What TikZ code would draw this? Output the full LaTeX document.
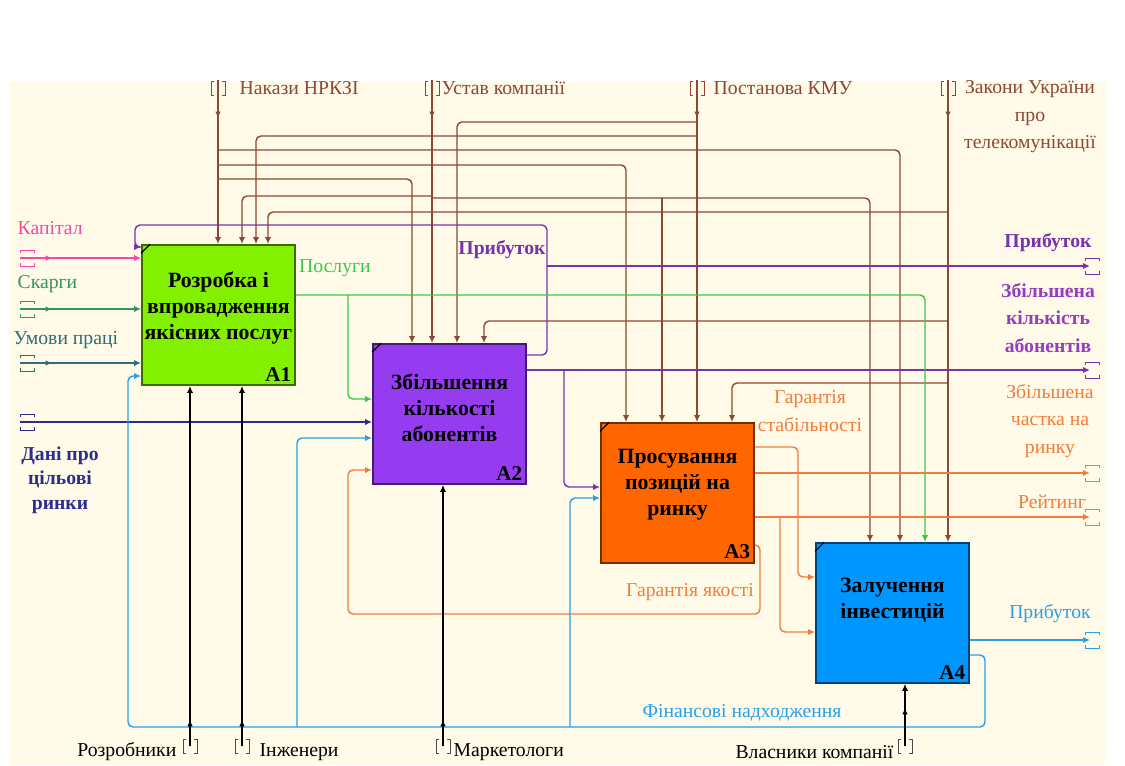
\documentclass[tikz,border=0pt]{standalone}
\usepackage{fontspec}
\setmainfont{Liberation Serif}
\usetikzlibrary{arrows.meta,decorations.markings,calc}

\definecolor{cream}{RGB}{255,251,232}
\definecolor{ctrlc}{RGB}{140,72,52}
\definecolor{kapc}{RGB}{250,70,170}
\definecolor{skc}{RGB}{50,150,90}
\definecolor{umc}{RGB}{45,110,120}
\definecolor{danc}{RGB}{45,45,140}
\definecolor{posc}{RGB}{60,200,70}
\definecolor{purc}{RGB}{120,50,170}
\definecolor{purt}{RGB}{150,60,190}
\definecolor{orc}{RGB}{240,125,60}
\definecolor{bluc}{RGB}{40,160,230}
\definecolor{aonec}{RGB}{130,240,0}
\definecolor{atwoc}{RGB}{150,60,240}
\definecolor{athreec}{RGB}{255,102,0}
\definecolor{afourc}{RGB}{0,150,255}

\tikzset{
  func/.style={draw, line width=1.2pt, minimum width=3.825cm, minimum height=3.5cm, inner sep=0pt},
  ftext/.style={align=center, font=\fontsize{15.5}{18.5}\selectfont\bfseries, inner sep=0pt},
  fnum/.style={font=\fontsize{15}{18}\selectfont\bfseries, inner sep=1pt},
  lbl/.style={font=\fontsize{14}{19.5}\selectfont, align=center, inner sep=1pt},
  endtip/.style={-{Latex[length=5pt,width=4.5pt]}},
  link/.style={line width=1pt, rounded corners=3.5pt},
  ctrl/.style={link, color=ctrlc},
  midmark/.style={postaction={decorate}, decoration={markings, mark=at position #1 with {\arrow{Latex[length=4.5pt,width=4pt]}}}},
  tunh/.pic={\draw[line width=0.6pt] (-7,-5) -- (-7,-8) -- (7,-8) -- (7,-5) (-7,5) -- (-7,8) -- (7,8) -- (7,5);},
  tunv/.pic={\draw[line width=0.6pt] (-4,-7) -- (-7,-7) -- (-7,7) -- (-4,7) (4,-7) -- (7,-7) -- (7,7) -- (4,7);}
}

\begin{document}
\begin{tikzpicture}[x=0.025cm,y=-0.025cm]
\useasboundingbox (0,0) rectangle (1125,765);
\fill[cream] (10,82) rectangle (1105,765);

\node[func, fill=aonec, draw=aonec!45!black] (A1) at (218.5,315) {};
\node[func, fill=atwoc, draw=atwoc!45!black] (A2) at (449.5,414) {};
\node[func, fill=athreec, draw=athreec!45!black] (A3) at (677.5,493) {};
\node[func, fill=afourc, draw=afourc!45!black] (A4) at (892.5,613) {};
\foreach \b in {A1,A2,A3,A4}
  \draw[line width=0.8pt] ($(\b.north west)+(0,9)$) -- ($(\b.north west)+(9,0)$);

\node[ftext] (t1) at (218.5,308) {Розробка і\\впровадження\\якісних послуг};
\node[ftext] (t2) at (449.5,408) {Збільшення\\кількості\\абонентів};
\node[ftext] (t3) at (677.5,485) {Просування\\позицій на\\ринку};
\node[ftext] (t4) at (892.5,600) {Залучення\\інвестицій};
\node[fnum, anchor=south east] (n1) at ($(A1.south east)+(-3,-3)$) {A1};
\node[fnum, anchor=south east] (n2) at ($(A2.south east)+(-3,-3)$) {A2};
\node[fnum, anchor=south east] (n3) at ($(A3.south east)+(-3,-3)$) {A3};
\node[fnum, anchor=south east] (n4) at ($(A4.south east)+(-3,-3)$) {A4};

\coordinate (nakT) at (218,80);
\coordinate (ustT) at (432,80);
\coordinate (posT) at (697,80);
\coordinate (zakT) at (948,80);
\node[lbl, text=ctrlc, anchor=west] (nakL) at (238,88) {Накази НРКЗІ};
\node[lbl, text=ctrlc, anchor=west] (ustL) at (440,88) {Устав компанії};
\node[lbl, text=ctrlc, anchor=west] (posL) at (712,88) {Постанова КМУ};
\node[lbl, text=ctrlc] (zakL) at (1030,117) {Закони України\\про\\телекомунікації};
\foreach \t in {nakT,ustT,posT,zakT}
  \pic[color=ctrlc] at ($(\t)+(0,8)$) {tunv};

\draw[ctrl, midmark=0.95cm, endtip] (nakT) -- (nakT |- A1.north);
\draw[ctrl, midmark=0.95cm, endtip] (ustT) -- (ustT |- A2.north);
\draw[ctrl, midmark=0.95cm, endtip] (posT) -- (posT |- A3.north);
\draw[ctrl, midmark=0.95cm, endtip] (zakT) -- (zakT |- A4.north);
\draw[ctrl, endtip] (nakT |- 0,150) -| (A4.north -| 900,0);
\draw[ctrl, endtip] (nakT |- 0,165) -| (A3.north -| 626,0);
\draw[ctrl, endtip] (nakT |- 0,179) -| (A2.north -| 412,0);
\draw[ctrl, endtip] (ustT |- 0,196) -| (A1.north -| 242,0);
\draw[ctrl, endtip] (ustT |- 0,198) -| (A4.north -| 870,0);
\draw[ctrl, endtip] (662,198) -- (A3.north -| 662,0);
\draw[ctrl, endtip] (posT |- 0,122) -| (A2.north -| 457,0);
\draw[ctrl, endtip] (posT |- 0,136) -| (A1.north -| 256,0);
\draw[ctrl, endtip] (zakT |- 0,212) -| (A1.north -| 268,0);
\draw[ctrl, endtip] (zakT |- 0,321) -| (A2.north -| 484,0);
\draw[ctrl, endtip] (zakT |- 0,383) -| (A3.north -| 732,0);

\coordinate (kapS) at (20,258);
\coordinate (skS) at (20,309);
\coordinate (umS) at (20,363);
\coordinate (danS) at (20,422);
\node[lbl, text=kapc, anchor=west] (kapL) at (16,228) {Капітал};
\node[lbl, text=skc, anchor=west] (skL) at (16,284) {Скарги};
\node[lbl, text=umc, anchor=west] (umL) at (12,340) {Умови праці};
\node[lbl, text=danc, font=\fontsize{14}{17.5}\selectfont\bfseries] (danL) at (60,480) {Дані про\\цільові\\ринки};
\draw[link, color=kapc, midmark=0.8cm, endtip] (kapS) -- (kapS -| A1.west);
\draw[link, color=skc, midmark=0.8cm, endtip] (skS) -- (skS -| A1.west);
\draw[link, color=umc, midmark=0.8cm, endtip] (umS) -- (umS -| A1.west);
\draw[link, color=danc, endtip] (danS) -- (danS -| A2.west);
\pic[color=kapc] at ($(kapS)+(7,0)$) {tunh};
\pic[color=skc] at ($(skS)+(7,0)$) {tunh};
\pic[color=umc] at ($(umS)+(7,0)$) {tunh};
\pic[color=danc] at ($(danS)+(7,0)$) {tunh};

\coordinate (prE) at (1090,266);
\coordinate (zbE) at (1090,370);
\coordinate (chE) at (1090,473);
\coordinate (reE) at (1090,517);
\coordinate (piE) at (1090,640);
\draw[link, color=purc, endtip] (A2.east |- 0,355) -| (547,225) -| (135,247) -- (A1.west |- 0,247);
\draw[link, color=purc, endtip] (547,266) -- (prE);
\draw[link, color=purc, endtip] (A2.east |- 0,370) -- (zbE);
\draw[link, color=purc, endtip] (564,370) |- (A3.west |- 0,487);
\draw[link, color=posc, endtip] (A1.east |- 0,295) -| (A4.north -| 925,0);
\draw[link, color=posc, endtip] (348,295) |- (A2.west |- 0,399);
\draw[link, color=orc, endtip] (A3.east |- 0,447) -| (798,577) -- (A4.west |- 0,577);
\draw[link, color=orc, endtip] (A3.east |- 0,473) -- (chE);
\draw[link, color=orc, endtip] (A3.east |- 0,517) -- (reE);
\draw[link, color=orc, endtip] (780,517) |- (A4.west |- 0,632);
\draw[link, color=orc, endtip] (A3.east |- 0,545) -| (760,614) -| (348,470) -- (A2.west |- 0,470);
\draw[link, color=bluc, endtip] (A4.east |- 0,640) -- (piE);
\draw[link, color=bluc, endtip] (A4.east |- 0,655) -| (985,727) -| (128,376) -- (A1.west |- 0,376);
\draw[link, color=bluc, endtip] (297,727) |- (A2.west |- 0,438);
\draw[link, color=bluc, endtip] (570,727) |- (A3.west |- 0,498);
\pic[color=purc] at ($(prE)+(2,0)$) {tunh};
\pic[color=purc] at ($(zbE)+(2,0)$) {tunh};
\pic[color=orc] at ($(chE)+(2,0)$) {tunh};
\pic[color=orc] at ($(reE)+(2,0)$) {tunh};
\pic[color=bluc] at ($(piE)+(2,0)$) {tunh};

\node[lbl, text=purc, font=\fontsize{14}{19.5}\selectfont\bfseries] (prL1) at (502,250) {Прибуток};
\node[lbl, text=posc] (posuL) at (335,268) {Послуги};
\node[lbl, text=purc, font=\fontsize{14}{19.5}\selectfont\bfseries] (prL2) at (1048,243) {Прибуток};
\node[lbl, text=purt, font=\fontsize{14}{19.5}\selectfont\bfseries] (zbL) at (1048,318) {Збільшена\\кількість\\абонентів};
\node[lbl, text=orc] (chL) at (1050,421) {Збільшена\\частка на\\ринку};
\node[lbl, text=orc] (reL) at (1052,502) {Рейтинг};
\node[lbl, text=orc] (gsL) at (810,411) {Гарантія\\стабільності};
\node[lbl, text=orc] (gyL) at (690,592) {Гарантія якості};
\node[lbl, text=bluc] (prL3) at (1050,614) {Прибуток};
\node[lbl, text=bluc] (fiL) at (742,713) {Фінансові надходження};

\coordinate (rozS) at (190,746);
\coordinate (inzS) at (242,746);
\coordinate (marS) at (443,746);
\coordinate (vlaS) at (905,746);
\foreach \m in {rozS,inzS,marS,vlaS}
  \pic[color=black!70] at (\m) {tunv};
\draw[link, midmark=0.65cm, endtip] (rozS) -- (rozS |- A1.south);
\draw[link, midmark=0.65cm, endtip] (inzS) -- (inzS |- A1.south);
\draw[link, midmark=0.65cm, endtip] (marS) -- (marS |- A2.south);
\draw[link, midmark=0.95cm, endtip] (vlaS) -- (vlaS |- A4.south);
\node[lbl, anchor=east] (rozL) at (178,752) {Розробники};
\node[lbl, anchor=west] (inzL) at (258,752) {Інженери};
\node[lbl, anchor=west] (marL) at (452,752) {Маркетологи};
\node[lbl, anchor=east] (vlaL) at (895,752) {Власники компанії};
\end{tikzpicture}
\end{document}
